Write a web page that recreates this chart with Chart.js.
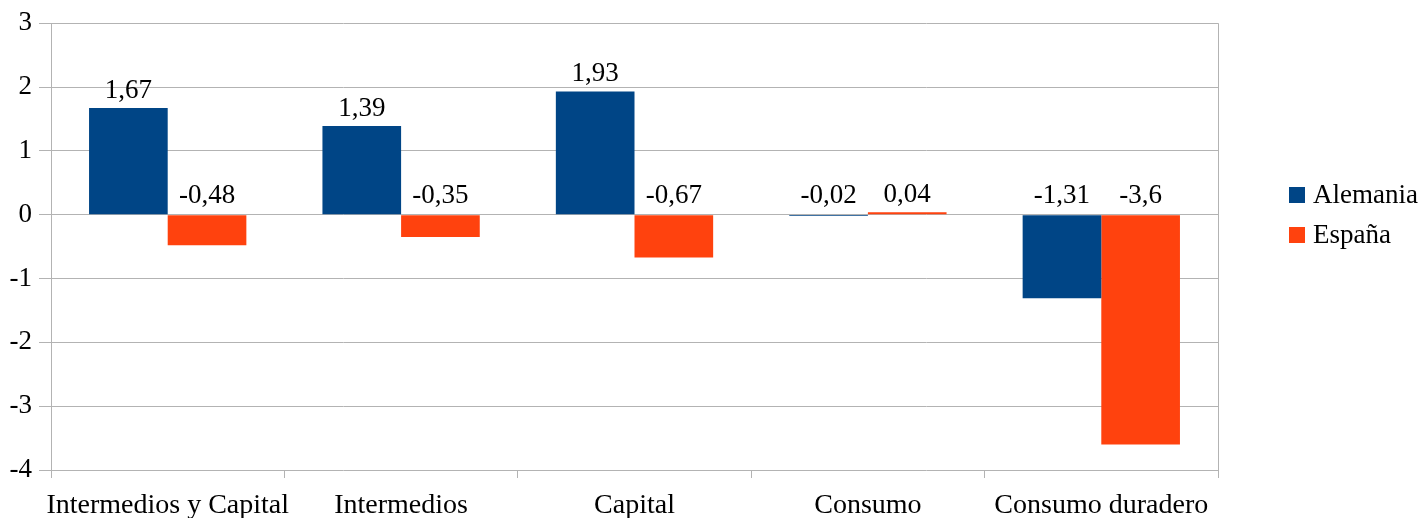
<!DOCTYPE html>
<html>
<head>
<meta charset="utf-8">
<script src="https://cdn.jsdelivr.net/npm/chart.js@4/dist/chart.umd.min.js"></script>
<style>
  html, body { margin: 0; padding: 0; background: #fff; }
  #wrap { width: 1423px; height: 518px; }
</style>
</head>
<body>
<div id="wrap"><canvas id="grafico"></canvas></div>
<script>
// datos del grafico
var categorias = ['Intermedios y Capital', 'Intermedios', 'Capital', 'Consumo', 'Consumo duradero'];
var alemania = [1.67, 1.39, 1.93, -0.02, -1.31];
var espana = [-0.48, -0.35, -0.67, 0.04, -3.6];
var series = ['Alemania', 'España'];
var colores = ['#004586', '#ff420e'];

var fuente = '"Liberation Serif", "DejaVu Serif", serif';

function formato(v) {
    return String(v).replace('.', ',');
}

// etiquetas encima de cada barra (las negativas quedan encima del cero)
var etiquetas = {
    id: 'etiquetas',
    afterDatasetsDraw: function (chart) {
        var ctx = chart.ctx;
        var y = chart.scales.y;
        ctx.save();
        ctx.font = '27px ' + fuente;
        ctx.fillStyle = '#000';
        ctx.textAlign = 'center';
        ctx.textBaseline = 'alphabetic';
        chart.data.datasets.forEach(function (ds, i) {
            chart.getDatasetMeta(i).data.forEach(function (bar, j) {
                var v = ds.data[j];
                var py = y.getPixelForValue(Math.max(v, 0));
                ctx.fillText(formato(v), bar.x, py - (v > 0 ? 10 : 12));
            });
        });
        ctx.restore();
    }
};

// leyenda a la derecha y borde derecho del area
var leyenda = {
    id: 'leyenda',
    afterDraw: function (chart) {
        var ctx = chart.ctx;
        var area = chart.chartArea;
        ctx.save();
        ctx.strokeStyle = '#b3b3b3';
        ctx.lineWidth = 1;
        ctx.beginPath();
        ctx.moveTo(area.right + 0.5, area.top);
        ctx.lineTo(area.right + 0.5, area.bottom + 8);
        ctx.stroke();
        ctx.font = '27px ' + fuente;
        ctx.textBaseline = 'middle';
        chart.data.datasets.forEach(function (ds, i) {
            var cy = 195 + i * 40;
            ctx.fillStyle = ds.backgroundColor;
            ctx.fillRect(1289, cy - 8, 16, 16);
            ctx.fillStyle = '#000';
            ctx.fillText(ds.label, 1313, cy + 1);
        });
        ctx.restore();
    }
};

var ctx = document.getElementById('grafico').getContext('2d');

var grafico = new Chart(ctx, {
    type: 'bar',
    data: {
        labels: categorias,
        datasets: [
            { label: series[0], data: alemania, backgroundColor: colores[0] },
            { label: series[1], data: espana, backgroundColor: colores[1] }
        ]
    },
    options: {
        responsive: true,
        maintainAspectRatio: false,
        animation: false,
        layout: { padding: { left: 0, top: 22, right: 205, bottom: 0 } },
        plugins: {
            legend: { display: false },
            tooltip: { enabled: false }
        },
        datasets: {
            bar: { categoryPercentage: 0.674, barPercentage: 1.0 }
        },
        scales: {
            x: {
                grid: {
                    offset: true,
                    drawOnChartArea: false,
                    drawTicks: true,
                    tickLength: 8,
                    color: '#b3b3b3'
                },
                border: { display: false },
                ticks: {
                    color: '#000',
                    font: { family: fuente, size: 28 },
                    padding: 11,
                    maxRotation: 0,
                    autoSkip: false
                },
                afterFit: function (scale) { scale.height = 48; }
            },
            y: {
                min: -4,
                max: 3,
                grid: {
                    color: '#b3b3b3',
                    tickLength: 12
                },
                border: { display: true, color: '#b3b3b3' },
                ticks: {
                    stepSize: 1,
                    color: '#000',
                    font: { family: fuente, size: 27 },
                    padding: 7
                },
                afterFit: function (scale) { scale.width = 51; }
            }
        }
    },
    plugins: [etiquetas, leyenda]
});
</script>
</body>
</html>
